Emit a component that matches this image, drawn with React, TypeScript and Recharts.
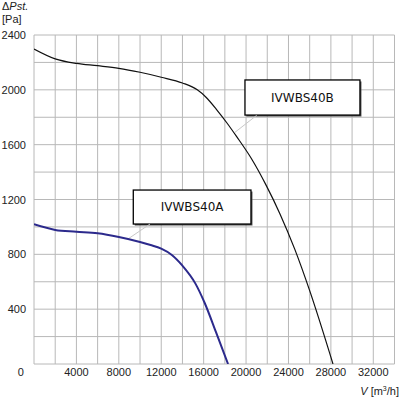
import React from "react";
import {
  LineChart, Line, XAxis, YAxis, CartesianGrid, ReferenceLine, ReferenceArea,
} from "recharts";

// fan curves: V [m3/h] vs static pressure [Pa]
const curveB = [
  { v: 0, p: 2298 }, { v: 2000, p: 2226 }, { v: 4000, p: 2193 }, { v: 6000, p: 2176 },
  { v: 8000, p: 2157 }, { v: 10000, p: 2128 }, { v: 12000, p: 2092 }, { v: 14000, p: 2050 },
  { v: 15400, p: 2000 }, { v: 16200, p: 1948 }, { v: 17200, p: 1858 }, { v: 18200, p: 1758 },
  { v: 19100, p: 1660 }, { v: 20500, p: 1499 }, { v: 21900, p: 1303 }, { v: 23200, p: 1095 },
  { v: 24600, p: 836 }, { v: 26000, p: 535 }, { v: 28200, p: 0 },
];
const curveA = [
  { v: 0, p: 1019 }, { v: 2000, p: 978 }, { v: 4000, p: 965 }, { v: 6000, p: 953 },
  { v: 8000, p: 926 }, { v: 10000, p: 890 }, { v: 11000, p: 868 }, { v: 12000, p: 841 },
  { v: 13000, p: 795 }, { v: 14000, p: 717 }, { v: 15200, p: 590 }, { v: 16100, p: 445 },
  { v: 17200, p: 225 }, { v: 18300, p: 0 },
];

const xTicks = [0, 4000, 8000, 12000, 16000, 20000, 24000, 28000, 32000];
const yTicks = [400, 800, 1200, 1600, 2000, 2400];
const xGrid = [0, 2000, 4000, 6000, 8000, 10000, 12000, 14000, 16000, 18000, 20000, 22000, 24000, 26000, 28000, 30000, 32000, 34000];
const yGrid = [0, 200, 400, 600, 800, 1000, 1200, 1400, 1600, 1800, 2000, 2200, 2400];

// label boxes and leader lines
const labelA = { name: "IVWBS40A", x1: 9364, x2: 20463, y1: 1021, y2: 1269, from: { x: 8864, y: 912 }, to: { x: 10939, y: 1021 } };
const labelB = { name: "IVWBS40B", x1: 19897, x2: 30742, y1: 1816, y2: 2072, from: { x: 18954, y: 1690 }, to: { x: 21000, y: 1814 } };

const font = "'Liberation Sans', Arial, sans-serif";

const XTick = (props: any) => {
  const { x, y, payload } = props;
  const dx = payload.value === 0 ? -13.3 : 0;
  return (
    <text x={x + dx} y={y} dy={4} textAnchor="middle" fontSize={11} fontFamily={font} fill="#222">
      {payload.value}
    </text>
  );
};

const YTick = (props: any) => {
  const { x, y, payload } = props;
  return (
    <text x={x} y={y} dy={4} textAnchor="end" fontSize={11} fontFamily={font} fill="#222">
      {payload.value}
    </text>
  );
};

const Box = (props: any) => {
  const { x, y, width, height } = props;
  return (
    <g>
      <rect x={x + 1.5} y={y + 1.5} width={width} height={height} fill="#555" />
      <rect x={x} y={y} width={width} height={height} fill="#fff" stroke="#000" strokeWidth={1.3} />
    </g>
  );
};

export default function App() {
  return (
    <div style={{ position: "absolute", left: 0, top: 0, width: 400, height: 399, background: "#fff" }}>
      <LineChart width={400} height={399} margin={{ top: 35, right: 5.5, bottom: 0, left: 0 }}>
        <CartesianGrid stroke="#b8b8b8" strokeWidth={1} horizontalValues={yGrid} verticalValues={xGrid} />
        <XAxis
          type="number" dataKey="v" domain={[0, 34000]} ticks={xTicks} allowDataOverflow
          height={35} axisLine={false} tickLine={false} tickSize={0} tickMargin={8} tick={<XTick />}
          interval={0}
        />
        <YAxis
          type="number" dataKey="p" domain={[0, 2400]} ticks={yTicks} allowDataOverflow
          width={34} axisLine={false} tickLine={false} tickSize={0} tickMargin={8} tick={<YTick />}
          interval={0}
        />
        <ReferenceLine segment={[labelA.from, labelA.to]} stroke="#c8c8c8" strokeWidth={1} />
        <ReferenceLine segment={[labelB.from, labelB.to]} stroke="#c8c8c8" strokeWidth={1} />
        <Line data={curveB} dataKey="p" type="monotone" stroke="#111" strokeWidth={1.2} dot={false} isAnimationActive={false} />
        <Line data={curveA} dataKey="p" type="monotone" stroke="#2c2a8c" strokeWidth={2} dot={false} isAnimationActive={false} />
        {[labelA, labelB].map((l) => (
          <ReferenceArea
            key={l.name} x1={l.x1} x2={l.x2} y1={l.y1} y2={l.y2} shape={<Box />} fillOpacity={1}
            label={{ value: l.name, position: "center", fill: "#111", fontSize: 12, fontFamily: "'DejaVu Sans', Verdana, sans-serif" }}
          />
        ))}
      </LineChart>
      <div style={{ position: "absolute", left: 2, top: 0, fontFamily: font, fontSize: 11, lineHeight: "13px", color: "#222" }}>
        Δ<i>Pst.</i>
      </div>
      <div style={{ position: "absolute", left: 2, top: 13, fontFamily: font, fontSize: 11, lineHeight: "13px", color: "#222" }}>
        [Pa]
      </div>
      <div style={{ position: "absolute", right: 1, top: 385, fontFamily: font, fontSize: 11, lineHeight: "13px", color: "#222", whiteSpace: "nowrap" }}>
        <i>V</i> [m<span style={{ fontSize: 7, position: "relative", top: -4 }}>3</span>/h]
      </div>
    </div>
  );
}
